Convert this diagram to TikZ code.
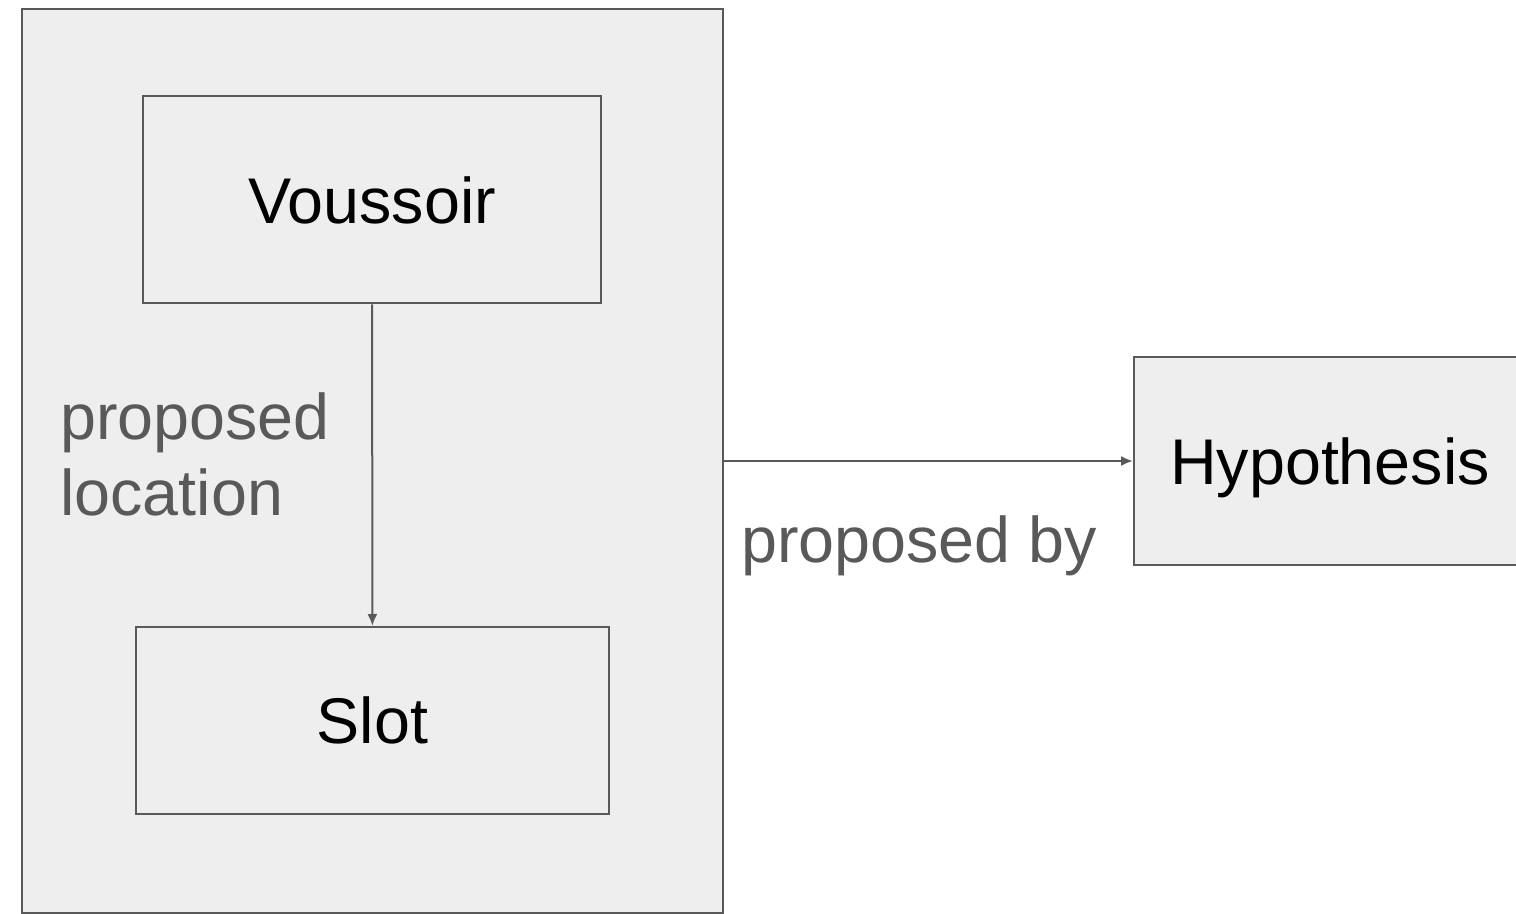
\documentclass[tikz,border=0pt]{standalone}
\usepackage{fontspec}
\setmainfont{Liberation Sans}
\usetikzlibrary{arrows.meta}
\definecolor{boxgray}{HTML}{EEEEEE}
\definecolor{linegray}{HTML}{595959}
\tikzset{
  entity/.style={rectangle, draw=linegray, line width=1pt, inner sep=0pt,
    font=\fontsize{32.3}{38}\selectfont},
  relation/.style={text=linegray, inner sep=0pt, align=left,
    font=\fontsize{32.3}{38}\selectfont},
  link/.style={draw=linegray, line width=1pt, -{Latex[length=6pt,width=5pt]}}
}
\begin{document}
\begin{tikzpicture}[x=0.5pt, y=-0.5pt]
\useasboundingbox (0,0) rectangle (1516,914);
\clip (0,0) rectangle (1516,914);
% container of voussoir and slot
\node (group) [entity, fill=boxgray, minimum width=350.5pt, minimum height=452pt] at (372.5,461) {};
\node (vous) [entity, fill=boxgray, minimum width=229pt, minimum height=103.5pt] at (372,200) {Voussoir};
\node (slot) [entity, fill=boxgray, minimum width=236.5pt, minimum height=93.5pt] at (372.5,720.5) {Slot};
\node (hyp) [entity, fill=boxgray, text depth=0pt, minimum width=196pt, minimum height=104pt] at (1330,461) {Hypothesis};

\node (loclbl) [relation, anchor=base west] at (60,516) {proposed\\location};
\node (bylbl) [relation, anchor=base west] at (741,563) {proposed by};

\draw [link] (vous) -- (slot);
\draw [link] (group.east) -- (hyp.west);
\end{tikzpicture}
\end{document}
